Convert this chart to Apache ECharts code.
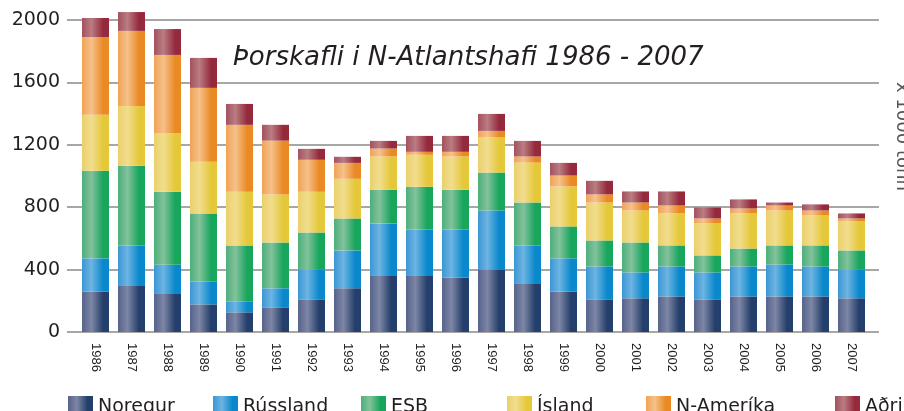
<!DOCTYPE html>
<html>
<head>
<meta charset="utf-8">
<script src="https://cdn.jsdelivr.net/npm/echarts@6/dist/echarts.min.js"></script>
<style>
  html, body { margin: 0; padding: 0; background: #fff; }
  #chart { width: 904px; height: 411px; }
</style>
</head>
<body>
<div id="chart"></div>
<script>
'use strict';

var years = ['1986', '1987', '1988', '1989', '1990', '1991', '1992', '1993', '1994', '1995', '1996',
		'1997', '1998', '1999', '2000', '2001', '2002', '2003', '2004', '2005', '2006', '2007'];

// x 1000 tonn
var noregur  = [258, 299, 248, 177, 126, 158, 209, 280, 363, 363, 350, 401, 312, 260, 209, 216, 228, 209, 228, 228, 228, 216];
var russland = [214, 256, 183, 147, 70, 122, 192, 243, 333, 294, 307, 378, 243, 212, 211, 166, 192, 173, 192, 205, 192, 185];
var esb      = [561, 510, 468, 436, 359, 294, 237, 205, 215, 274, 254, 243, 275, 205, 167, 192, 135, 109, 115, 122, 135, 122];
var island   = [359, 384, 377, 331, 344, 308, 261, 254, 214, 205, 214, 225, 256, 256, 243, 205, 205, 205, 225, 224, 192, 186];
var namerika = [499, 481, 500, 474, 429, 345, 205, 102, 51, 19, 30, 42, 39, 70, 52, 51, 51, 32, 32, 32, 32, 19];
var adrir    = [122, 121, 166, 192, 134, 101, 70, 39, 49, 102, 102, 109, 100, 81, 87, 71, 90, 70, 58, 19, 39, 32];

var yTicks = [0, 400, 800, 1200, 1600, 2000];

var seriesDefs = [
	{name: 'Noregur',   data: noregur,  c: ['#56628a', '#7d86a5', '#243f6b']},
	{name: 'Rússland',  data: russland, c: ['#3b97d3', '#6db4e2', '#0a88cc']},
	{name: 'ESB',       data: esb,      c: ['#4daf7a', '#83c29c', '#18a55c']},
	{name: 'Ísland',    data: island,   c: ['#ead06a', '#f1dd8f', '#e5c83a']},
	{name: 'N-Ameríka', data: namerika, c: ['#efa357', '#f6c18a', '#ea8a25']},
	{name: 'Aðrir',     data: adrir,    c: ['#a4515f', '#b97d82', '#962a3d']}
];
var legendX = [63, 208, 356, 502, 641, 830];

function barGrad(c) {
	return new echarts.graphic.LinearGradient(0, 0, 1, 0, [
		{offset: 0, color: c[0]},
		{offset: 0.35, color: c[1]},
		{offset: 0.78, color: c[2]},
		{offset: 1, color: c[2]}
	]);
}

var chart = echarts.init(document.getElementById('chart'));

var series = seriesDefs.map(function (s) {
	return {
		name: s.name,
		type: 'bar',
		stack: 'total',
		barWidth: 27,
		clip: false,
		xAxisIndex: 0,
		yAxisIndex: 0,
		itemStyle: {color: barGrad(s.c)},
		emphasis: {disabled: true},
		data: s.data
	};
});

var legends = seriesDefs.map(function (s, i) {
	return {
		data: [s.name],
		left: legendX[i],
		top: 391,
		itemWidth: 25,
		itemHeight: 22,
		icon: 'rect',
		selectedMode: false,
		textStyle: {fontFamily: 'DejaVu Sans', fontSize: 19, color: '#231f20'}
	};
});

chart.setOption({
	animation: false,
	backgroundColor: '#fff',
	title: {
		text: 'Þorskafli i N-Atlantshafi 1986 - 2007',
		left: 228,
		top: 40,
		textStyle: {
			fontFamily: 'DejaVu Sans',
			fontStyle: 'italic',
			fontWeight: 'normal',
			fontSize: 26,
			color: '#231f20'
		}
	},
	legend: legends,
	grid: [
		{left: 77.5, width: 792, top: 20, height: 312},
		{left: 67, width: 812, top: 20, height: 312}
	],
	xAxis: [
		{
			type: 'category',
			gridIndex: 0,
			data: years,
			axisLine: {show: false},
			axisTick: {show: false},
			axisLabel: {
				rotate: -90,
				margin: 11,
				fontFamily: 'Liberation Sans',
				fontSize: 13,
				color: '#231f20'
			}
		},
		{type: 'value', gridIndex: 1, show: false, min: 0, max: 1}
	],
	yAxis: [
		{type: 'value', gridIndex: 0, min: 0, max: 2000, interval: 400, show: false},
		{
			type: 'value',
			gridIndex: 1,
			min: yTicks[0],
			max: yTicks[yTicks.length - 1],
			interval: 400,
			axisLine: {show: false},
			axisTick: {show: false},
			axisLabel: {
				margin: 7,
				fontFamily: 'DejaVu Sans',
				fontSize: 19,
				color: '#231f20',
				formatter: function (v) {
					return String(v);
				}
			},
			splitLine: {lineStyle: {color: '#8a8a8a', width: 1.5}}
		}
	],
	graphic: [{
		type: 'text',
		x: 893,
		y: 82,
		rotation: -Math.PI / 2,
		style: {
			text: 'x 1000 tonn',
			fontFamily: 'DejaVu Sans',
			fontSize: 18,
			fill: '#555',
			align: 'left',
			verticalAlign: 'bottom'
		}
	}],
	series: series
});
</script>
</body>
</html>
